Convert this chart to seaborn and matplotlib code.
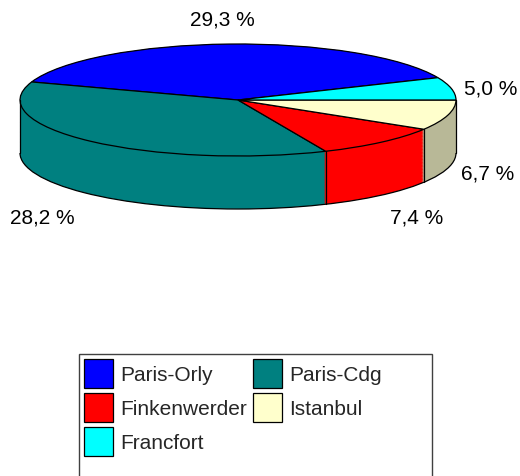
import numpy as np
import matplotlib
matplotlib.use('Agg')
from matplotlib import pyplot as plt
from matplotlib.patches import Patch, Rectangle, Arc
import seaborn as sns

# データ
sites = ['Paris-Orly', 'Paris-Cdg', 'Finkenwerder', 'Istanbul', 'Francfort']
shares = [29.3, 28.2, 7.4, 6.7, 5.0]
share_labels = ['29,3 %', '28,2 %', '7,4 %', '6,7 %', '5,0 %']

# 色（上面と側面）
top_colors = ['#0000FF', '#008080', '#FF0000', '#FFFFCC', '#00FFFF']
side_colors = ['#0000FF', '#008080', '#FF0000', '#B8B897', '#00FFFF']

sns.set_theme(style='white')
plt.rcParams['font.family'] = ['Liberation Sans', 'DejaVu Sans']

W, H = 520, 477
fig = plt.figure(figsize=(W / 100, H / 100), dpi=100)
ax = fig.add_axes([0, 0, 1, 1])

# 楕円の大きさ（ピクセル）
rx, ry = 218, 56
cx, cy = 238, 101
depth = 53 / ry
start = 23.5

# 側面：少しずつ下にずらした円グラフを重ねる
for d in np.linspace(depth, 0, 70):
    ax.pie(shares, colors=side_colors, startangle=start, center=(0, -d),
           wedgeprops=dict(linewidth=0))

# 側面の下の輪郭
ax.add_patch(Arc((0, -depth), 2, 2, theta1=180, theta2=360,
                 color='black', lw=0.9, zorder=3))

# 上面
ax.pie(shares, colors=top_colors, startangle=start, center=(0, 0),
       wedgeprops=dict(edgecolor='black', linewidth=0.9))

# 側面の縦線
frac = np.cumsum([0] + shares) / sum(shares)
bounds = list(start + 360 * frac[:-1]) + [0, 180]
for a in bounds:
    t = np.deg2rad(a)
    if np.sin(t) <= 1e-9:
        x0, y0 = np.cos(t), np.sin(t)
        ax.plot([x0, x0], [y0, y0 - depth], color='black', lw=0.9, zorder=3)

ax.set_aspect('auto')
ax.set_xlim(-cx / rx, (W - cx) / rx)
ax.set_ylim(-(H - cy) / ry, cy / ry)
ax.axis('off')

# ラベル位置（ピクセル）
label_px = [(222, 20), (42, 218), (417, 218), (488, 174), (491, 89)]
for txt, (px, py) in zip(share_labels, label_px):
    ax.text((px - cx) / rx, (cy - py) / ry, txt, ha='center', va='center',
            fontsize=15, color='black')

# 凡例
order = [0, 2, 4, 1, 3]
handles = [Patch(facecolor=top_colors[i], edgecolor='black', linewidth=0.9) for i in order]
labels = [sites[i] for i in order]
fig.legend(handles, labels, ncol=2, loc='upper left',
           bbox_to_anchor=(84 / W, 1 - 360 / H), frameon=False,
           fontsize=15, borderpad=0, handlelength=1.4, handleheight=1.77,
           handletextpad=0.34, columnspacing=0.3, labelspacing=0.24,
           borderaxespad=0)
fig.add_artist(Rectangle((79 / W, -0.1), (432 - 79) / W, 0.1 + 1 - 355 / H,
                         transform=fig.transFigure, fill=False,
                         edgecolor='#404040', linewidth=1))

fig.savefig('out.png', dpi=100)
